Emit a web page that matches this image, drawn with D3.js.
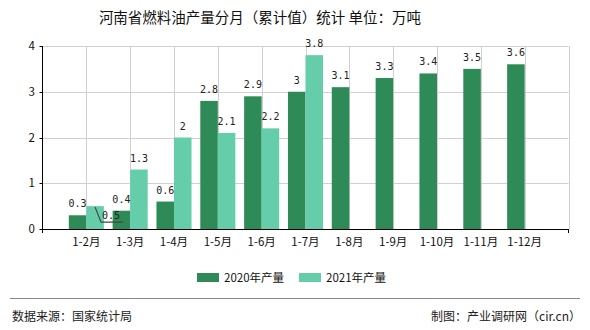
<!DOCTYPE html>
<html><head><meta charset="utf-8">
<script src="https://cdn.jsdelivr.net/npm/d3@7"></script>
<style>
body{margin:0;background:#fff;}
text{font-family:"Noto Sans CJK SC","DejaVu Sans",sans-serif;}
text.val{font-family:"DejaVu Sans Mono","Liberation Mono",monospace;}
</style></head>
<body><svg id="c" width="590" height="330"></svg>
<script>
const categories = ["1-2月","1-3月","1-4月","1-5月","1-6月","1-7月","1-8月","1-9月","1-10月","1-11月","1-12月"];
const values2020 = [0.3,0.4,0.6,2.8,2.9,3,3.1,3.3,3.4,3.5,3.6];
const values2021 = [0.5,1.3,2,2.1,2.2,3.8];
const seriesNames = ["2020年产量","2021年产量"];
const yTicks = [0,1,2,3,4];
const colors = ["#2e8b57","#66cdaa"];

const svg = d3.select("#c");
const L = 42.5, R = 568.5, T = 46, B = 229;
const x = d3.scaleLinear().domain([0, categories.length + 1]).range([L, R]);
const y = d3.scaleLinear().domain([0, 4]).range([B, T]);
const step = x(1) - x(0);
const bw = step * 0.4;

// title
svg.append("text").attr("x", 260).attr("y", 23).attr("text-anchor", "middle")
  .attr("font-size", 14.5).attr("fill", "#111").text("河南省燃料油产量分月（累计值）统计 单位：万吨");

// gridlines
const g = svg.append("g");
g.selectAll("line.h").data(yTicks.slice(1)).join("line")
  .attr("x1", L).attr("x2", R).attr("y1", d => Math.round(y(d)) + 0.5).attr("y2", d => Math.round(y(d)) + 0.5)
  .attr("stroke", "#d0d0d0");
const vIdx = d3.range(1, categories.length + 2);
g.selectAll("line.v").data(vIdx).join("line")
  .attr("x1", d => Math.round(x(d)) + 0.5).attr("x2", d => Math.round(x(d)) + 0.5)
  .attr("y1", T).attr("y2", B).attr("stroke", "#d0d0d0");

// bars
svg.append("g").selectAll("rect").data(values2020).join("rect")
  .attr("x", (d, i) => x(i + 1) - bw).attr("width", bw)
  .attr("y", d => y(d)).attr("height", d => B - y(d)).attr("fill", colors[0]);
svg.append("g").selectAll("rect").data(values2021).join("rect")
  .attr("x", (d, i) => x(i + 1)).attr("width", bw)
  .attr("y", d => y(d)).attr("height", d => B - y(d)).attr("fill", colors[1]);

// value labels
const lab = svg.append("g").attr("font-size", 10).attr("fill", "#222").attr("text-anchor", "middle");
values2020.forEach((d, i) => {
  lab.append("text").attr("class", "val").attr("x", x(i + 1) - bw / 2).attr("y", y(d) - 8).text(d);
});
values2021.forEach((d, i) => {
  if (i === 0) {
    const bx = x(i + 1) + bw / 2;
    const by = y(d) + 1;
    svg.append("path").attr("d", `M${bx},${by} L${bx + 6},${by + 15} L${bx + 28},${by + 15}`)
      .attr("fill", "none").attr("stroke", "#444").attr("stroke-width", 1.2);
    lab.append("text").attr("class", "val").attr("x", bx + 16).attr("y", by + 12).text(d);
  } else {
    lab.append("text").attr("class", "val").attr("x", x(i + 1) + bw / 2).attr("y", y(d) - 8).text(d);
  }
});

// axes
const ax = svg.append("g").attr("stroke", "#000");
ax.append("line").attr("x1", L).attr("x2", L).attr("y1", T).attr("y2", B + 0.5);
ax.append("line").attr("x1", L).attr("x2", R).attr("y1", B + 0.5).attr("y2", B + 0.5);
ax.selectAll("line.yt").data(yTicks).join("line")
  .attr("x1", L - 3).attr("x2", L).attr("y1", d => Math.round(y(d)) + 0.5).attr("y2", d => Math.round(y(d)) + 0.5);
ax.selectAll("line.xt").data([0, categories.length + 1]).join("line")
  .attr("x1", d => x(d)).attr("x2", d => x(d)).attr("y1", B).attr("y2", B + 4);

svg.append("g").selectAll("text").data(yTicks).join("text")
  .attr("x", 35).attr("y", d => y(d) + 4).attr("text-anchor", "end")
  .attr("font-size", 11.5).attr("fill", "#111").text(d => d);
svg.append("g").selectAll("text").data(categories).join("text")
  .attr("x", (d, i) => x(i + 1)).attr("y", 246).attr("text-anchor", "middle")
  .attr("font-size", 11.5).attr("fill", "#111").text(d => d);

// legend
const lg = svg.append("g");
[197, 299].forEach((lx, i) => {
  lg.append("rect").attr("x", lx).attr("y", 273).attr("width", 22).attr("height", 9).attr("fill", colors[i]);
  lg.append("text").attr("x", lx + 27).attr("y", 282).attr("font-size", 11.5).attr("fill", "#111").text(seriesNames[i]);
});

// footer
svg.append("line").attr("x1", 10).attr("x2", 580).attr("y1", 298.5).attr("y2", 298.5).attr("stroke", "#888");
svg.append("text").attr("x", 12).attr("y", 321).attr("font-size", 12).attr("fill", "#222").text("数据来源：国家统计局");
svg.append("text").attr("x", 581).attr("y", 321).attr("font-size", 12).attr("text-anchor", "end").attr("fill", "#222").text("制图：产业调研网（cir.cn）");
</script></body></html>
